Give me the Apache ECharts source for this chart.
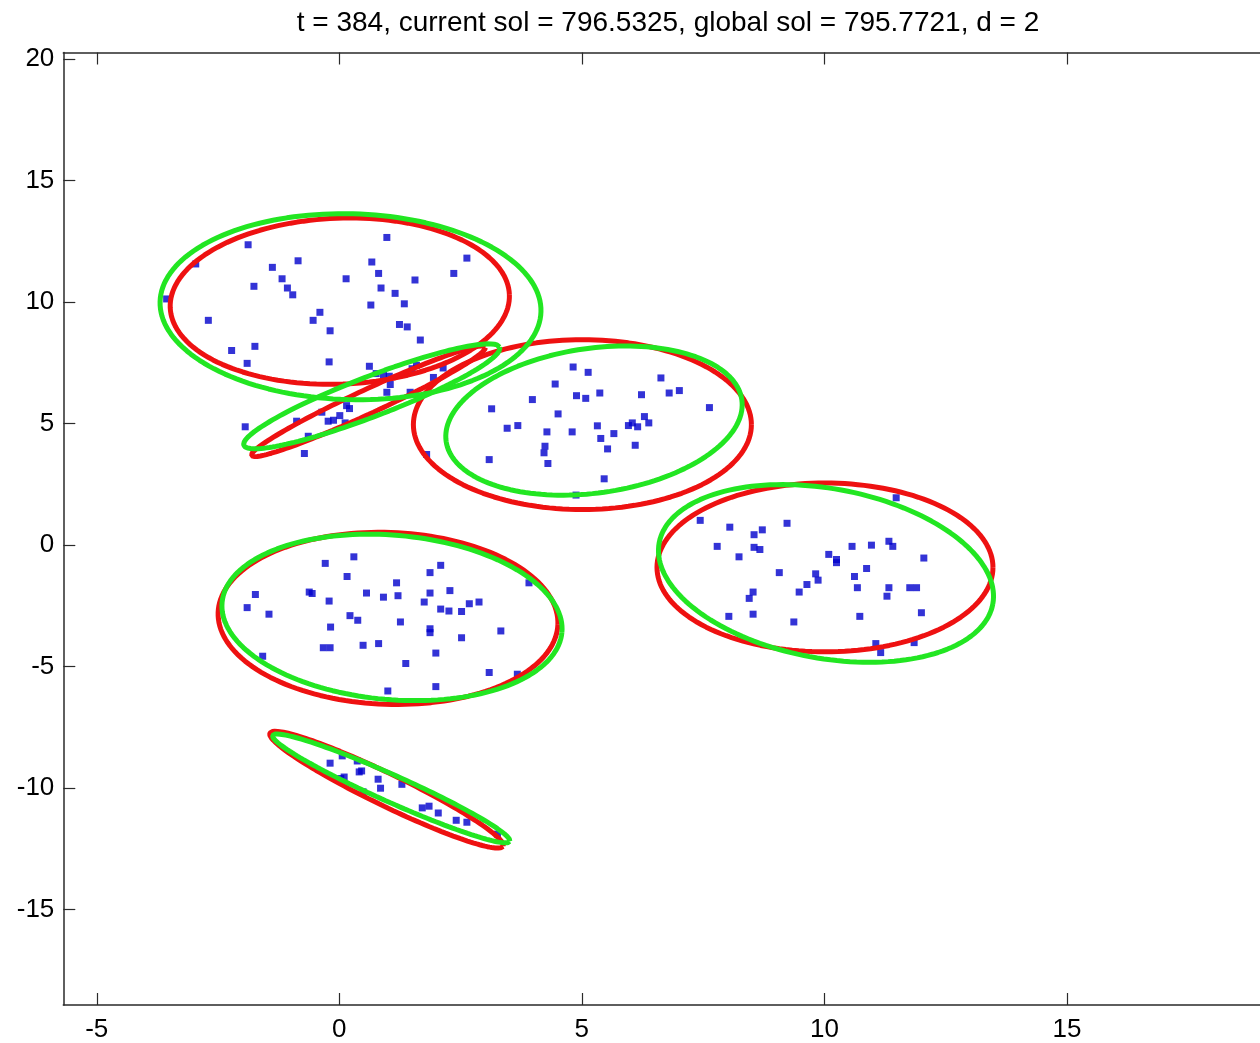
<!DOCTYPE html>
<html>
<head>
<meta charset="utf-8">
<script src="https://cdn.jsdelivr.net/npm/echarts@6/dist/echarts.min.js"></script>
<style>
html,body{margin:0;padding:0;background:#fff;}
#chart{width:1260px;height:1043px;}
</style>
</head>
<body>
<div id="chart"></div>
<script>
// ---- data ----
const titleText = 't = 384, current sol = 796.5325, global sol = 795.7721, d = 2';
const xTicks = [-5, 0, 5, 10, 15];
const yTicks = [-15, -10, -5, 0, 5, 10, 15, 20];
const xRange = [-5.69, 18.98];
const yRange = [-18.92, 20.27];

const pointsA = [[-1.88,12.36],[0.98,12.66],[-2.96,11.57],[-3.56,10.13],[-1.38,11.43],[-0.85,11.70],[-1.76,10.65],[-1.18,10.96],[-1.07,10.58],[-0.96,10.30],[0.14,10.96],[0.67,11.65],[0.81,11.18],[1.56,10.91],[2.63,11.81],[2.36,11.18],[0.86,10.58],[1.15,10.36],[0.65,9.88],[1.34,9.93],[-0.40,9.58],[-0.54,9.25],[-2.70,9.25],[-0.19,8.82],[1.24,9.08],[1.40,8.98],[1.67,8.44],[-2.22,8.01],[-1.74,8.18],[-1.90,7.48],[-0.21,7.54]];
const pointsB = [[0.62,7.36],[0.91,7.02],[1.03,6.95],[0.76,7.06],[1.05,6.61],[0.98,6.29],[1.50,7.26],[1.59,7.40],[1.94,6.90],[2.14,7.29],[1.46,6.29],[1.62,6.08],[0.15,5.74],[0.21,5.62],[-0.36,5.47],[0.01,5.33],[-0.12,5.14],[-0.23,5.10],[0.12,5.03],[-0.88,5.10],[-1.94,4.87],[-0.64,4.48],[-0.72,3.77],[1.80,3.73]];
const pointsC = [[4.82,7.33],[5.13,7.11],[4.45,6.63],[6.63,6.88],[5.37,6.26],[4.89,6.15],[5.08,6.04],[6.23,6.19],[6.80,6.26],[7.01,6.36],[3.98,5.99],[7.63,5.66],[3.14,5.61],[4.51,5.40],[6.29,5.29],[6.38,5.03],[6.04,5.03],[5.96,4.92],[6.15,4.87],[5.32,4.91],[5.66,4.59],[5.39,4.39],[4.80,4.66],[4.28,4.66],[3.46,4.81],[3.68,4.92],[4.24,4.07],[4.22,3.80],[4.30,3.36],[5.53,3.96],[6.10,4.11],[3.09,3.52],[5.46,2.73],[4.88,2.06]];
const pointsD = [[11.48,1.95],[7.44,1.02],[8.05,0.74],[9.23,0.90],[8.72,0.63],[8.55,0.43],[7.79,-0.05],[8.55,-0.09],[8.67,-0.18],[8.24,-0.48],[10.09,-0.38],[10.25,-0.59],[10.25,-0.72],[10.57,-0.05],[10.97,0.00],[11.33,0.16],[11.41,-0.05],[12.05,-0.53],[10.87,-0.96],[9.07,-1.13],[9.82,-1.18],[9.87,-1.44],[9.64,-1.62],[10.62,-1.29],[8.53,-1.93],[8.45,-2.19],[9.48,-1.93],[10.68,-1.75],[11.33,-1.75],[11.29,-2.10],[11.76,-1.75],[11.90,-1.75],[8.03,-2.93],[8.53,-2.84],[9.37,-3.16],[10.73,-2.93],[12.00,-2.78],[11.06,-4.05],[11.16,-4.42],[11.85,-4.01]];
const pointsE = [[0.30,-0.48],[-0.29,-0.75],[2.09,-0.83],[1.87,-1.13],[0.16,-1.29],[1.18,-1.55],[3.91,-1.55],[-1.73,-2.03],[-0.62,-1.93],[-0.56,-1.99],[0.56,-1.97],[0.91,-2.14],[1.21,-2.08],[1.87,-1.97],[2.28,-1.87],[-0.21,-2.30],[1.75,-2.34],[-1.90,-2.57],[-1.45,-2.84],[2.09,-2.63],[2.26,-2.71],[2.52,-2.73],[2.68,-2.41],[2.88,-2.34],[0.22,-2.90],[0.38,-3.09],[1.26,-3.16],[-0.18,-3.37],[1.87,-3.44],[1.87,-3.60],[3.33,-3.53],[2.52,-3.81],[-0.33,-4.22],[-0.19,-4.22],[0.49,-4.12],[0.81,-4.05],[1.99,-4.44],[-1.58,-4.57],[1.37,-4.87],[3.09,-5.24],[3.67,-5.31],[1.00,-6.00],[1.99,-5.82]];
const pointsF = [[0.06,-8.67],[-0.19,-8.97],[0.37,-8.88],[0.46,-9.29],[0.41,-9.33],[0.10,-9.54],[0.03,-9.60],[0.80,-9.63],[0.85,-10.00],[0.49,-10.15],[1.29,-9.84],[1.71,-10.81],[1.85,-10.74],[2.04,-11.02],[2.41,-11.32],[2.63,-11.40],[3.26,-11.89]];

// ellipses: [centerX, centerY, axis1X, axis1Y, axis2X, axis2Y] (data units)
const redEllipses = [
  [0.01, 10.04, 3.496, 0.268, -0.066, 3.409],
  [0.60, 5.919, 2.412, 2.232, -0.104, 0.447],
  [5.011, 4.961, 3.484, 0, 0, 3.494],
  [10.012, -0.917, 3.463, 0, 0, 3.473],
  [1.004, -3.013, 3.502, -0.244, 0.062, 3.533],
  [0.973, -10.062, 2.405, -2.329, 0.144, 0.592]
];
const greenEllipses = [
  [0.231, 9.811, 3.926, -0.205, 0.050, 3.821],
  [0.668, 6.124, 2.637, 2.018, -0.148, 0.767],
  [5.250, 5.125, 3.048, 0.854, -0.208, 2.947],
  [10.033, -1.163, 3.439, -1.258, 0.316, 3.432],
  [1.086, -2.972, 3.503, -0.611, 0.148, 3.370],
  [1.070, -10.008, 2.446, -2.182, 0.114, 0.506]
];

function ellipsePath(e) {
  const [cx, cy, ux, uy, vx, vy] = e;
  const pts = [];
  const n = 160;
  for (let k = 0; k <= n; k++) {
    const t = 2 * Math.PI * k / n;
    const c = Math.cos(t), s = Math.sin(t);
    pts.push([cx + ux * c + vx * s, cy + uy * c + vy * s]);
  }
  return pts;
}

const FONT = '"Liberation Sans", Arial, Helvetica, sans-serif';
const axisColor = '#2a2a2a';

const series = [];
series.push({
  type: 'scatter',
  xAxisIndex: 0, yAxisIndex: 0,
  symbol: 'rect',
  symbolSize: 7,
  itemStyle: { color: '#0000cc' },
  data: [].concat(pointsA, pointsB, pointsC, pointsD, pointsE, pointsF),
  silent: true,
  z: 2
});
redEllipses.forEach(e => series.push({
  type: 'line', xAxisIndex: 0, yAxisIndex: 0,
  data: ellipsePath(e), showSymbol: false, symbol: 'none',
  lineStyle: { color: '#ee1111', width: 5 }, silent: true, z: 3, animation: false
}));
greenEllipses.forEach(e => series.push({
  type: 'line', xAxisIndex: 0, yAxisIndex: 0,
  data: ellipsePath(e), showSymbol: false, symbol: 'none',
  lineStyle: { color: '#22e622', width: 5 }, silent: true, z: 4, animation: false
}));

const tickStyle = { show: true, inside: true, length: 12, lineStyle: { color: axisColor, width: 1.2 } };
const lineStyle = { show: true, onZero: false, lineStyle: { color: axisColor, width: 1.5 } };

const chart = echarts.init(document.getElementById('chart'), null, { renderer: 'canvas' });
chart.setOption({
  backgroundColor: '#ffffff',
  animation: false,
  title: {
    text: titleText,
    left: 663, top: 4,
    textAlign: 'center',
    textStyle: { fontFamily: FONT, fontSize: 28, fontWeight: 'normal', color: '#000' }
  },
  grid: { left: 63.3, top: 52.5, right: 0, height: 953.5, containLabel: false },
  xAxis: [
    { type: 'value', position: 'bottom', min: xRange[0], max: xRange[1],
      axisLine: lineStyle,
      axisTick: Object.assign({}, tickStyle, { customValues: xTicks }),
      axisLabel: { customValues: xTicks, fontFamily: FONT, fontSize: 26, color: '#000', margin: 12 },
      splitLine: { show: false } },
    { type: 'value', position: 'top', min: xRange[0], max: xRange[1],
      axisLine: lineStyle,
      axisTick: Object.assign({}, tickStyle, { customValues: xTicks }),
      axisLabel: { show: false },
      splitLine: { show: false } }
  ],
  yAxis: [
    { type: 'value', position: 'left', min: yRange[0], max: yRange[1],
      axisLine: lineStyle,
      axisTick: Object.assign({}, tickStyle, { customValues: yTicks }),
      axisLabel: { customValues: yTicks, fontFamily: FONT, fontSize: 26, color: '#000', margin: 9 },
      splitLine: { show: false } }
  ],
  series: series
});
</script>
</body>
</html>
